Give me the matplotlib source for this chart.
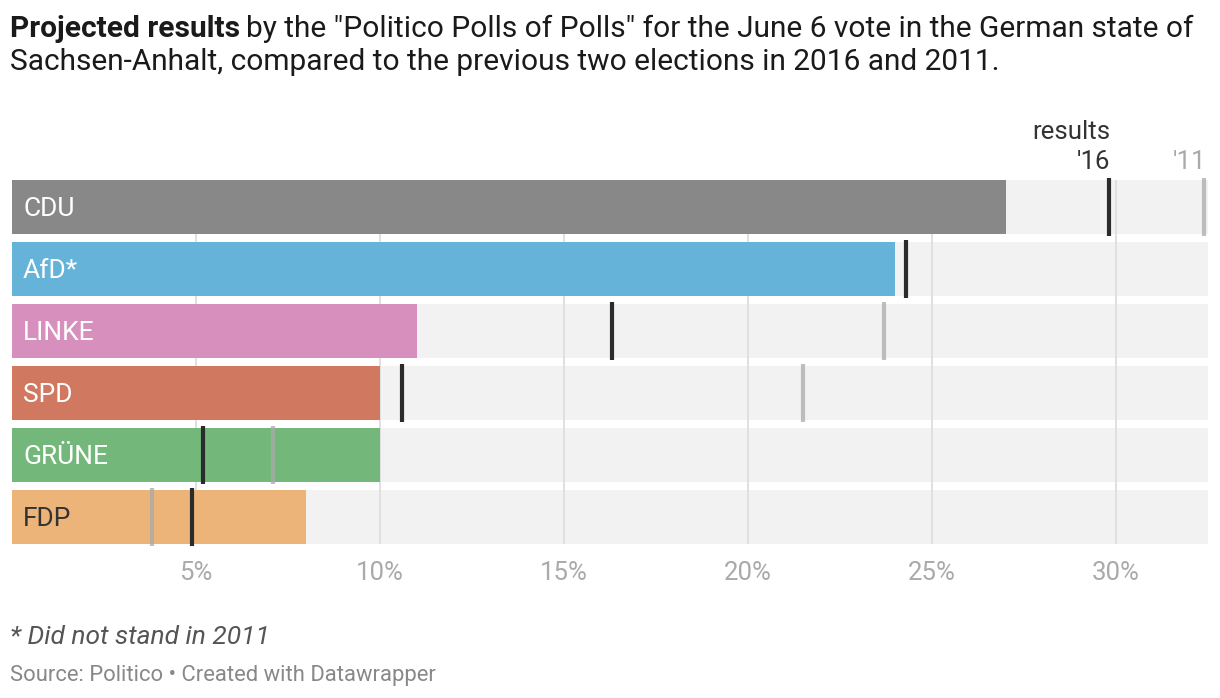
import numpy as np
import matplotlib.pyplot as plt

plt.rcParams['font.family'] = ['Roboto', 'DejaVu Sans']

# Projected Sachsen-Anhalt results vs. the 2016 and 2011 elections (%)
parties = ["CDU", "AfD*", "LINKE", "SPD", "GRÜNE", "FDP"]
projected = [27.0, 24.0, 11.0, 10.0, 10.0, 8.0]
res_2016 = [29.8, 24.3, 16.3, 10.6, 5.2, 4.9]
res_2011 = [32.4, None, 23.7, 21.5, 7.1, 3.8]
colors = ["#888888", "#66b3d9", "#d78fbe", "#d07860", "#74b77b", "#edb479"]
label_colors = ["white", "white", "white", "white", "white", "#333333"]
ticks = [5, 10, 15, 20, 25, 30]
xmax = 32.5

fig = plt.figure(figsize=(12.2, 6.98), dpi=100)
ax = fig.add_axes([12/1220, 1 - 544/698, 1196/1220, 364/698])

y = np.arange(len(parties))
h = 54/62

# light grey background bars, grid on top of them, bars on top of grid
ax.barh(y, [xmax]*len(parties), height=h, color="#f2f2f2", zorder=1)
for t in ticks:
    ax.axvline(t, color="#dddddd", lw=1.3, zorder=2)
ax.barh(y, projected, height=h, color=colors, zorder=3)

for i in range(len(parties)):
    ax.text(0.3, i + 0.03, parties[i], color=label_colors[i], fontsize=19,
            va="center", ha="left", zorder=6)
    ax.plot([res_2016[i]]*2, [i - h/2 - 0.03, i + h/2 + 0.03],
            color="#2b2b2b", lw=3, solid_capstyle="butt", zorder=5, clip_on=False)
    if res_2011[i] is not None:
        ax.plot([res_2011[i]]*2, [i - h/2 - 0.03, i + h/2 + 0.03],
                color="#aaaaaa", alpha=0.75, lw=3, solid_capstyle="butt", zorder=4,
                clip_on=False)

ax.set_xlim(0, xmax)
ax.set_ylim(len(parties) - 1 + h/2, -h/2)
ax.set_yticks([])
ax.set_xticks(ticks)
ax.set_xticklabels([f"{t}%" for t in ticks], color="#aaaaaa", fontsize=18.5)
ax.tick_params(axis="x", length=0, pad=12)
for s in ax.spines.values():
    s.set_visible(False)

# column header for the markers
ax.text(29.85, -1.21, "results", ha="right", va="center", fontsize=18.5, color="#333333")
ax.text(29.85, -0.73, "'16", ha="right", va="center", fontsize=18.5, color="#333333")
ax.text(32.45, -0.73, "'11", ha="right", va="center", fontsize=18.5, color="#aaaaaa")

t1 = fig.text(10/1220, 1 - 29/698, "Projected results", fontsize=21.5, va="center",
              color="#1a1a1a", fontweight="bold")
fig.canvas.draw()
bb = t1.get_window_extent()
fig.text(bb.x1/1220 + 6/1220, 1 - 29/698,
         "by the \"Politico Polls of Polls\" for the June 6 vote in the German state of",
         fontsize=21.5, va="center", color="#1a1a1a")
fig.text(10/1220, 1 - 62/698,
         "Sachsen-Anhalt, compared to the previous two elections in 2016 and 2011.",
         fontsize=21.5, va="center", color="#1a1a1a")

fig.text(10/1220, 1 - 637/698, "* Did not stand in 2011", fontsize=19,
         style="italic", va="center", color="#555555")
fig.text(10/1220, 1 - 676/698, "Source: Politico • Created with Datawrapper",
         fontsize=15.8, va="center", color="#888888")

fig.savefig("out.png", dpi=100, facecolor="white")
